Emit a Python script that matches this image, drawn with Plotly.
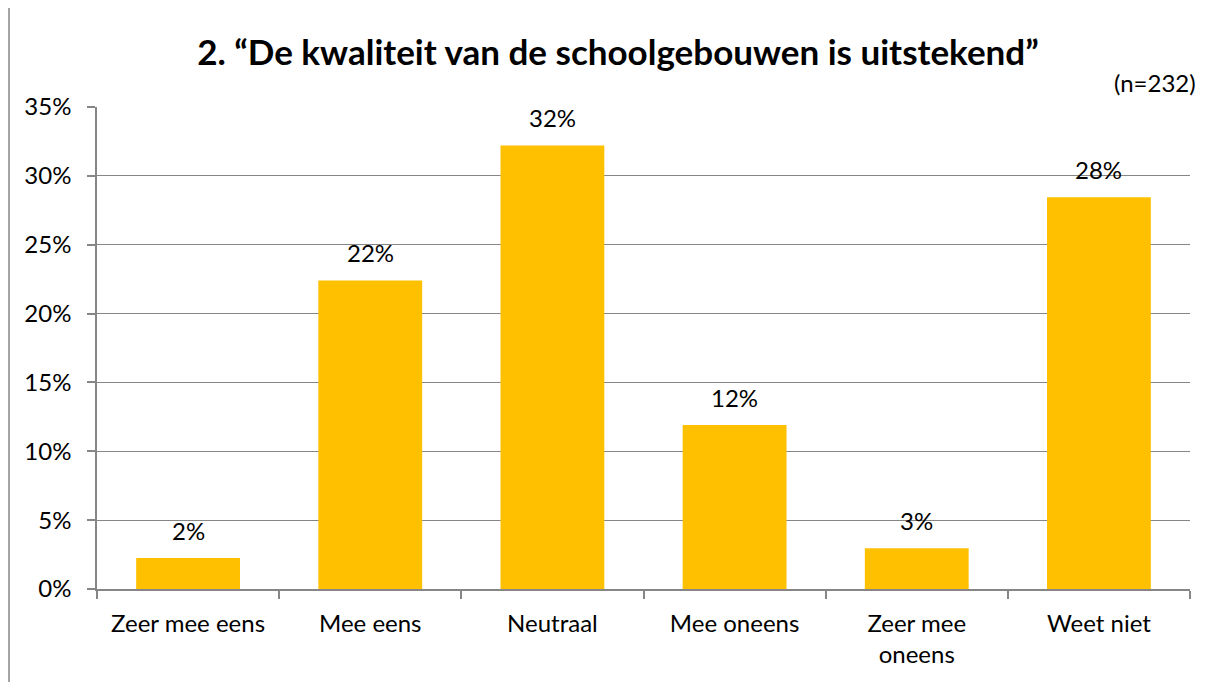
import plotly.graph_objects as go

categories = ["Zeer mee eens", "Mee eens", "Neutraal", "Mee oneens", "Zeer mee<br>oneens", "Weet niet"]
values = [2.25, 22.4, 32.2, 11.9, 2.95, 28.45]
labels = ["2%", "22%", "32%", "12%", "3%", "28%"]
y_ticks = [0, 5, 10, 15, 20, 25, 30, 35]
y_tick_text = ["0%", "5%", "10%", "15%", "20%", "25%", "30%", "35%"]

FONT = "Lato"
FS = 24
fig = go.Figure()
fig.add_trace(go.Bar(x=categories, y=values, marker=dict(color="#FFC000", line=dict(width=0)),
                     width=0.57, hoverinfo="skip"))

for c, v, t in zip(categories, values, labels):
    fig.add_annotation(x=c, y=v, text=t, showarrow=False, yshift=28,
                       font=dict(family=FONT, size=FS, color="#000000"))

fig.add_annotation(xref="paper", yref="paper", x=1.007, y=1.05, xanchor="right", yanchor="middle",
                   text="(n=232)", showarrow=False, font=dict(family=FONT, size=FS, color="#000000"))

# outer border (left and top)
fig.add_shape(type="line", xref="paper", yref="paper", x0=-0.0805, x1=1.1, y0=1.2075, y1=1.2075,
              line=dict(color="#868686", width=1.5))
fig.add_shape(type="line", xref="paper", yref="paper", x0=-0.0805, x1=-0.0805, y0=-0.3, y1=1.2075,
              line=dict(color="#868686", width=1.5))

fig.update_layout(
    width=1215, height=682,
    margin=dict(l=89, r=33, t=99, b=101),
    paper_bgcolor="white", plot_bgcolor="white",
    showlegend=False,
    title=dict(text="<b>2. “De kwaliteit van de schoolgebouwen is uitstekend”</b>",
               x=0.502, xanchor="center", y=0.935, yanchor="middle",
               font=dict(family=FONT, size=35, color="#000000")),
    font=dict(family=FONT, size=FS, color="#000000"),
)
fig.update_xaxes(type="category", showline=True, linecolor="#868686", linewidth=1.5,
                 ticks="outside", tickson="boundaries", ticklen=8, tickcolor="#868686",
                 tickwidth=1.5, showgrid=False, tickfont=dict(family=FONT, size=FS),
                 ticklabelstandoff=12)
fig.update_yaxes(range=[0, 35], tickvals=y_ticks, ticktext=y_tick_text,
                 showline=True, linecolor="#868686", linewidth=1.5,
                 ticks="outside", ticklen=8, tickcolor="#868686", tickwidth=1.5,
                 showgrid=True, gridcolor="#868686", gridwidth=1.2,
                 zeroline=False, tickfont=dict(family=FONT, size=FS),
                 ticklabelstandoff=11)

fig.write_html("out.html")
